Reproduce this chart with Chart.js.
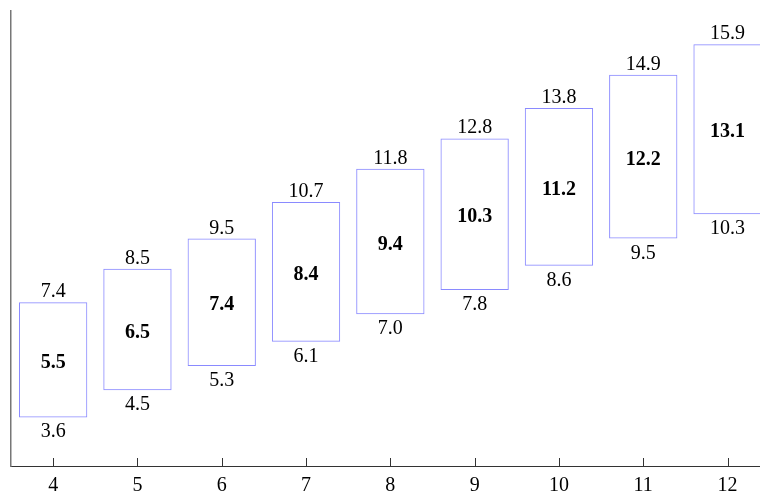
<!DOCTYPE html>
<html>
<head>
<meta charset="utf-8">
<script src="https://cdn.jsdelivr.net/npm/chart.js@4"></script>
<style>
  html, body { margin: 0; padding: 0; background: #fff; overflow: hidden; }
</style>
</head>
<body>
<canvas id="chart" width="760" height="491"></canvas>
<script>
// data
const xValues = [4, 5, 6, 7, 8, 9, 10, 11, 12];
const lows  = [3.6, 4.5, 5.3, 6.1, 7.0, 7.8, 8.6, 9.5, 10.3];
const highs = [7.4, 8.5, 9.5, 10.7, 11.8, 12.8, 13.8, 14.9, 15.9];
const mids  = [5.5, 6.5, 7.4, 8.4, 9.4, 10.3, 11.2, 12.2, 13.1];
const xTicks = [4, 5, 6, 7, 8, 9, 10, 11, 12];

const fontFam = "'Liberation Serif', 'Times New Roman', serif";

// value labels above, below and inside each box
const labelPlugin = {
  id: 'boxLabels',
  afterDatasetsDraw(chart) {
    const ctx = chart.ctx;
    const meta = chart.getDatasetMeta(0);
    ctx.save();
    ctx.fillStyle = '#000';
    ctx.textAlign = 'center';
    ctx.textBaseline = 'alphabetic';
    meta.data.forEach((bar, i) => {
      const top = Math.min(bar.y, bar.base);
      const bottom = Math.max(bar.y, bar.base);
      ctx.font = '20px ' + fontFam;
      ctx.fillText(highs[i].toFixed(1), bar.x, top - 5);
      ctx.fillText(lows[i].toFixed(1), bar.x, bottom + 20);
      ctx.font = 'bold 20px ' + fontFam;
      ctx.fillText(mids[i].toFixed(1), bar.x, chart.scales.y.getPixelForValue(mids[i]) + 8);
    });
    ctx.restore();
  }
};

// small inward tick marks on the x axis
const tickPlugin = {
  id: 'inTicks',
  afterDraw(chart) {
    const ctx = chart.ctx;
    const sx = chart.scales.x;
    const b = chart.chartArea.bottom;
    ctx.save();
    ctx.strokeStyle = '#333';
    ctx.lineWidth = 1;
    xTicks.forEach(v => {
      const px = Math.round(sx.getPixelForValue(v)) + 0.5;
      ctx.beginPath();
      ctx.moveTo(px, b);
      ctx.lineTo(px, b - 8);
      ctx.stroke();
    });
    ctx.restore();
  }
};

new Chart(document.getElementById('chart'), {
  type: 'bar',
  data: {
    datasets: [{
      data: xValues.map((x, i) => ({ x: x, y: [lows[i], highs[i]] })),
      backgroundColor: 'rgba(255,255,255,0)',
      borderColor: '#8a8aff',
      borderWidth: 1,
      borderSkipped: false,
      barPercentage: 0.81,
      categoryPercentage: 1
    }]
  },
  options: {
    responsive: false,
    animation: false,
    layout: { padding: { left: 11, top: 11, right: 0, bottom: 0 } },
    plugins: { legend: { display: false }, tooltip: { enabled: false } },
    scales: {
      x: {
        type: 'linear',
        offset: false,
        min: 3.5,
        max: 12.385,
        grid: { display: false, drawTicks: false },
        border: { display: true, color: '#333', width: 1 },
        afterBuildTicks: s => { s.ticks = xTicks.map(v => ({ value: v })); },
        afterFit: s => { s.height = 25; },
        ticks: { color: '#000', font: { family: fontFam, size: 20 }, padding: 8, maxRotation: 0 }
      },
      y: {
        min: 2,
        max: 17,
        grid: { display: false, drawTicks: false },
        border: { display: true, color: '#777', width: 1.5 },
        afterFit: s => { s.width = 0; },
        ticks: { display: false }
      }
    }
  },
  plugins: [labelPlugin, tickPlugin]
});
</script>
</body>
</html>
